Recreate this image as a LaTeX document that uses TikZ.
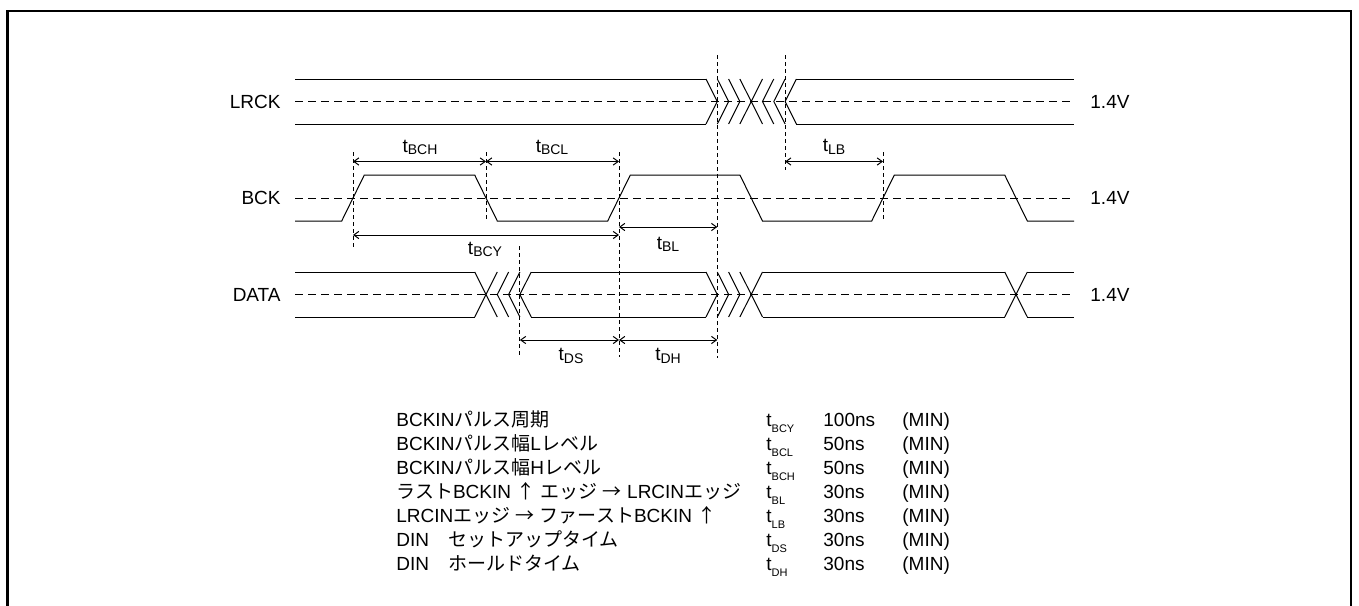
\documentclass[tikz,border=0pt]{standalone}
\usepackage{fontspec}
\setmainfont{Liberation Sans}
\newfontfamily\jp{Noto Sans CJK JP}
\usetikzlibrary{arrows.meta}

\newcommand{\tsub}[1]{t\raisebox{-1.2pt}{\fontsize{7}{8}\selectfont #1}}
\newcommand{\tsubs}[1]{t\raisebox{-3.2pt}{\fontsize{5.5}{6}\selectfont #1}}

\tikzset{
  wave/.style={line width=0.5pt},
  level/.style={line width=0.5pt,dash pattern=on 4pt off 2.5pt},
  guide/.style={line width=0.5pt,dash pattern=on 2pt off 1.5pt},
  dim/.style={line width=0.5pt,{Straight Barb[length=2.5pt,width=3.6pt]}-{Straight Barb[length=2.5pt,width=3.6pt]}},
}

\begin{document}
\begin{tikzpicture}[x=0.5pt,y=-0.5pt,font=\fontsize{9.5}{11}\selectfont,inner sep=0pt]
  \useasboundingbox (0,0) rectangle (1359,605);
  \draw[line width=1.25pt] (7.5,11) rectangle (1351,650);

  % signal names and threshold
  \node[anchor=east] (lrck) at (281,101.5) {LRCK};
  \node[anchor=east] (bck)  at (281,198)   {BCK};
  \node[anchor=east] (data) at (281,294.5) {DATA};
  \node[anchor=west] (vlr) at (1090,101.5) {1.4V};
  \node[anchor=west] (vbc) at (1090,198)   {1.4V};
  \node[anchor=west] (vda) at (1090,294.5) {1.4V};
  \foreach \y in {101.5,198,294.5}
    \draw[level] (295,\y) -- (1074,\y);

  % LRCK
  \draw[wave] (295,79) -- (706,79)   (796.4,79) -- (1074,79);
  \draw[wave] (295,124) -- (706,124) (796.4,124) -- (1074,124);
  \foreach \a in {706,717.3,728.6}
    \draw[wave] (\a,79) -- (\a+11.3,101.5) -- (\a,124);      % >
  \draw[wave] (739.9,79) -- (762.5,124) (739.9,124) -- (762.5,79);
  \foreach \a in {762.5,773.8,785.1}
    \draw[wave] (\a+11.3,79) -- (\a,101.5) -- (\a+11.3,124); % <

  % BCK
  \draw[wave] (295,221) -- (341.7,221) -- (364.3,175) -- (474.7,175) -- (497.3,221)
    -- (607.7,221) -- (630.3,175) -- (739.9,175) -- (762.5,221) -- (871.7,221)
    -- (894.3,175) -- (1004.7,175) -- (1027.3,221) -- (1074,221);

  % DATA
  \draw[wave] (295,272) -- (474.7,272) (531.2,272) -- (706,272)
    (762.5,272) -- (1004.7,272) (1027.3,272) -- (1074,272);
  \draw[wave] (295,317) -- (474.7,317) (531.2,317) -- (706,317)
    (762.5,317) -- (1004.7,317) (1027.3,317) -- (1074,317);
  \foreach \a/\b in {474.7/497.3,739.9/762.5,1004.7/1027.3}
    \draw[wave] (\a,272) -- (\b,317) (\a,317) -- (\b,272);   % X
  \foreach \a in {497.3,508.6,519.9}
    \draw[wave] (\a+11.3,272) -- (\a,294.5) -- (\a+11.3,317); % <
  \foreach \a in {706,717.3,728.6}
    \draw[wave] (\a,272) -- (\a+11.3,294.5) -- (\a,317);      % >

  % guides
  \draw[guide] (353,152)   -- (353,250);
  \draw[guide] (486,152)   -- (486,221);
  \draw[guide] (619,152)   -- (619,357);
  \draw[guide] (519.9,246) -- (519.9,357);
  \draw[guide] (717.3,55)  -- (717.3,358);
  \draw[guide] (785.1,55)  -- (785.1,170);
  \draw[guide] (883,152)   -- (883,221);

  % timings
  \coordinate (bchA) at (353,161.5);   \coordinate (bchB) at (486,161.5);
  \coordinate (bclB) at (619,161.5);
  \coordinate (bcyA) at (353,235);     \coordinate (bcyB) at (619,235);
  \coordinate (blA)  at (619,227);     \coordinate (blB)  at (717.3,227);
  \coordinate (lbA)  at (785.1,161.5); \coordinate (lbB)  at (883,161.5);
  \coordinate (dsA)  at (519.9,340);   \coordinate (dsB)  at (619,340);
  \coordinate (dhB)  at (717.3,340);
  \draw[dim] (bchA) -- (bchB);
  \draw[dim] (bchB) -- (bclB);
  \draw[dim] (bcyA) -- (bcyB);
  \draw[dim] (blA)  -- (blB);
  \draw[dim] (lbA)  -- (lbB);
  \draw[dim] (dsA)  -- (dsB);
  \draw[dim] (dsB)  -- (dhB);
  \node (tbch) at (420,147.5) {\tsub{BCH}};
  \node (tbcl) at (552,147.5) {\tsub{BCL}};
  \node (tbcy) at (485,249.5) {\tsub{BCY}};
  \node (tbl)  at (668,244.5) {\tsub{BL}};
  \node (tlb)  at (834,147)   {\tsub{LB}};
  \node (tds)  at (571,356)   {\tsub{DS}};
  \node (tdh)  at (668,356)   {\tsub{DH}};

  % table
  \node[anchor=base west] (n1) at (396,426) {BCKIN{\jp パルス周期}};
  \node[anchor=base west] (n2) at (396,450) {BCKIN{\jp パルス幅}L{\jp レベル}};
  \node[anchor=base west] (n3) at (396,474) {BCKIN{\jp パルス幅}H{\jp レベル}};
  \node[anchor=base west] (n4) at (396,498) {{\jp ラスト}BCKIN {\jp ↑} {\jp エッジ} {\jp →} LRCIN{\jp エッジ}};
  \node[anchor=base west] (n5) at (396,522) {LRCIN{\jp エッジ} {\jp →} {\jp ファースト}BCKIN {\jp ↑}};
  \node[anchor=base west] (n6) at (396,546) {DIN{\jp 　セットアップタイム}};
  \node[anchor=base west] (n7) at (396,570) {DIN{\jp 　ホールドタイム}};
  \foreach \s/\v/\y in {BCY/100ns/426,BCL/50ns/450,BCH/50ns/474,BL/30ns/498,LB/30ns/522,DS/30ns/546,DH/30ns/570}{
    \node[anchor=base west] at (766,\y) {\tsubs{\s}};
    \node[anchor=base west] at (823,\y) {\v};
    \node[anchor=base west] at (902,\y) {(MIN)};
  }
\end{tikzpicture}
\end{document}
